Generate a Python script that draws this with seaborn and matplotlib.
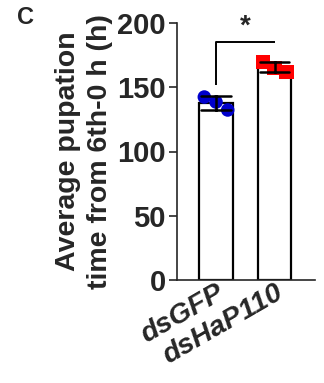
import numpy as np
import pandas as pd
import matplotlib
matplotlib.use("Agg")
import matplotlib.pyplot as plt
import seaborn as sns

# data
groups = ["dsGFP", "dsHaP110"]
gfp_vals = [142.4, 138.5, 132.3]
hap_vals = [169.6, 165.0, 161.9]
point_colors = ["#0000CC", "#FF0000"]
point_markers = ["o", "s"]
jitter = [-0.2, 0.0, 0.2]
sig_left, sig_top = 152, 185
sig_text = "*"
yticks = [0, 50, 100, 150, 200]

df = pd.DataFrame({
    "group": [groups[0]] * len(gfp_vals) + [groups[1]] * len(hap_vals),
    "value": gfp_vals + hap_vals,
})

sns.set_style("ticks")
plt.rcParams["font.family"] = ["Liberation Sans", "DejaVu Sans"]
plt.rcParams["font.weight"] = "bold"

fig = plt.figure(figsize=(3.24, 3.83), dpi=100)
ax = fig.add_axes([177 / 324, 1 - 280 / 383, 138 / 324, 257 / 383])

sns.barplot(data=df, x="group", y="value", order=groups, ax=ax,
            color="white", edgecolor="black", linewidth=1.6, width=0.58,
            errorbar="sd", capsize=0.5,
            err_kws={"color": "black", "linewidth": 1.8})

for i, vals in enumerate([gfp_vals, hap_vals]):
    xs = [i + j for j in jitter]
    ax.scatter(xs, vals, s=95 if i == 0 else 110, marker=point_markers[i],
               color=point_colors[i], edgecolor="none", zorder=1.5)

# significance bracket
ax.plot([0, 0, 1], [sig_left, sig_top, sig_top], color="black", lw=1.4,
        solid_capstyle="butt")
ax.text(0.5, sig_top + 2, sig_text, ha="center", va="bottom",
        fontsize=20, fontweight="bold")

ax.set_xlim(-0.667, 1.692)
ax.set_ylim(0, 200)
ax.set_yticks(yticks)
ax.set_xlabel("")
ax.set_ylabel("Average pupation\ntime from 6th-0 h (h)", fontsize=20.5,
              fontweight="bold", labelpad=3, linespacing=1.3)
ax.tick_params(axis="y", length=6, width=1.2, labelsize=21, pad=2)
ax.tick_params(axis="x", length=0, pad=0)
ax.set_xticks([0, 1])
ax.set_xticklabels(groups, rotation=30, ha="right", rotation_mode="anchor",
                   fontsize=20.5, fontweight="bold", fontstyle="italic")
for s in ["left", "bottom"]:
    ax.spines[s].set_linewidth(1.2)
sns.despine(ax=ax)

fig.text(17 / 324, 1 - 6 / 383, "C", fontsize=17, fontweight="bold",
         ha="left", va="top")

fig.savefig("out.png", dpi=100)
